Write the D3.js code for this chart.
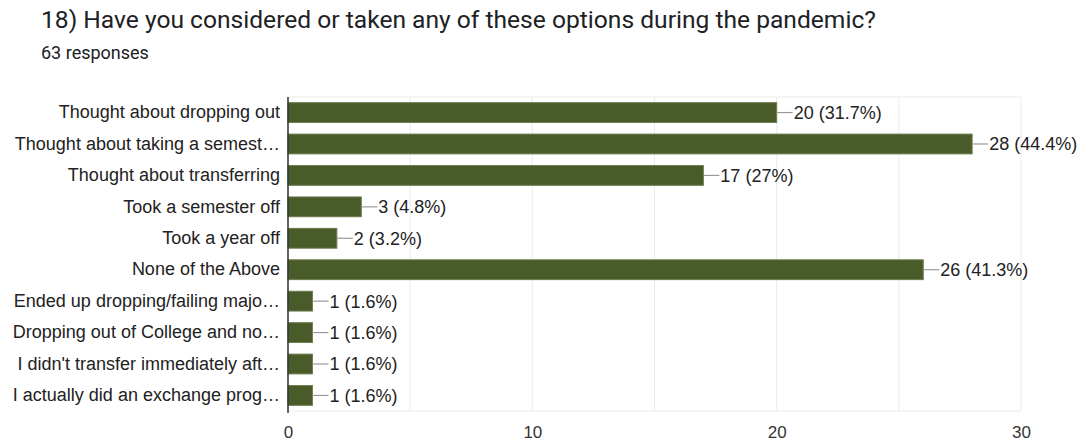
<!DOCTYPE html>
<html>
<head>
<meta charset="utf-8">
<script src="https://cdn.jsdelivr.net/npm/d3@7"></script>
<style>
  body { margin: 0; background: #fff; }
  svg { display: block; }
</style>
</head>
<body>
<svg id="chart"></svg>
<script>
// chart data
const title = "18) Have you considered or taken any of these options during the pandemic?";
const subtitle = "63 responses";
const categories = [
    "Thought about dropping out",
    "Thought about taking a semest\u2026",
    "Thought about transferring",
    "Took a semester off",
    "Took a year off",
    "None of the Above",
    "Ended up dropping/failing majo\u2026",
    "Dropping out of College and no\u2026",
    "I didn't transfer immediately aft\u2026",
    "I actually did an exchange prog\u2026"
];
const counts = [20, 28, 17, 3, 2, 26, 1, 1, 1, 1];
const percentLabels = ["31.7%", "44.4%", "27%", "4.8%", "3.2%", "41.3%", "1.6%", "1.6%", "1.6%", "1.6%"];
const xTicks = [0, 10, 20, 30];
const gridValues = [0, 5, 10, 15, 20, 25, 30];

function drawChart() {
    const width = 1082, height = 443;
    const margin = { top: 97, right: 61, bottom: 32, left: 288 };
    const innerW = width - margin.left - margin.right;
    const innerH = height - margin.top - margin.bottom;
    const labelFont = "'Liberation Sans', Arial, sans-serif";

    const svg = d3.select("#chart")
        .attr("width", width)
        .attr("height", height);

    // titles
    svg.append("text")
        .attr("x", 41).attr("y", 28)
        .style("font-family", "Roboto, 'Liberation Sans', sans-serif")
        .style("font-size", "24.6px")
        .style("fill", "#202124")
        .text(title);

    svg.append("text")
        .attr("x", 41).attr("y", 59)
        .style("font-family", "Roboto, 'Liberation Sans', sans-serif")
        .style("font-size", "18px")
        .style("fill", "#202124")
        .text(subtitle);

    const g = svg.append("g")
        .attr("transform", `translate(${margin.left},${margin.top})`);

    const x = d3.scaleLinear().domain([0, 30]).range([0, innerW]);
    const y = d3.scaleBand().domain(categories).range([0, innerH]).paddingInner(0.37).paddingOuter(0.18);

    // grid lines
    g.selectAll(".grid")
        .data(gridValues)
        .enter().append("line")
        .attr("x1", d => x(d)).attr("x2", d => x(d))
        .attr("y1", 0).attr("y2", innerH)
        .style("stroke", "#ebebeb")
        .style("stroke-width", 1);

    g.append("line")
        .attr("x1", 0).attr("x2", innerW)
        .attr("y1", 0).attr("y2", 0)
        .style("stroke", "#ebebeb");
    g.append("line")
        .attr("x1", 0).attr("x2", innerW)
        .attr("y1", innerH).attr("y2", innerH)
        .style("stroke", "#ebebeb");

    // bars
    g.selectAll(".bar")
        .data(counts)
        .enter().append("rect")
        .attr("x", 0)
        .attr("y", (d, i) => y(categories[i]))
        .attr("width", d => x(d))
        .attr("height", y.bandwidth())
        .style("fill", "#4a5b2a")
        .style("stroke", "#6d7d4f")
        .style("stroke-width", 1);

    // leader lines and value labels
    g.selectAll(".leader")
        .data(counts)
        .enter().append("line")
        .attr("x1", d => x(d))
        .attr("x2", d => x(d) + 16)
        .attr("y1", (d, i) => y(categories[i]) + y.bandwidth() / 2)
        .attr("y2", (d, i) => y(categories[i]) + y.bandwidth() / 2)
        .style("stroke", "#999")
        .style("stroke-width", 1.2);

    g.selectAll(".val")
        .data(counts)
        .enter().append("text")
        .attr("x", d => x(d) + 17)
        .attr("y", (d, i) => y(categories[i]) + y.bandwidth() / 2)
        .attr("dy", "0.36em")
        .style("font-family", labelFont)
        .style("font-size", "18px")
        .style("fill", "#222")
        .text((d, i) => `${d} (${percentLabels[i]})`);

    // y axis
    const yAxis = g.append("g")
        .call(d3.axisLeft(y).tickSize(0).tickPadding(8));
    yAxis.select(".domain")
        .attr("d", `M0,0V${innerH + 2}`)
        .style("stroke", "#333")
        .style("stroke-width", 1.5);
    yAxis.selectAll("text")
        .style("font-family", labelFont)
        .style("font-size", "18px")
        .style("fill", "#222");

    // x axis
    const xAxis = g.append("g")
        .attr("transform", `translate(0,${innerH})`)
        .call(d3.axisBottom(x).tickValues(xTicks).tickSize(0).tickPadding(15));
    xAxis.select(".domain").remove();
    xAxis.selectAll("text")
        .style("font-family", labelFont)
        .style("font-size", "17px")
        .style("fill", "#333");
}

document.addEventListener('DOMContentLoaded', () => {
    drawChart();
});
</script>
</body>
</html>
